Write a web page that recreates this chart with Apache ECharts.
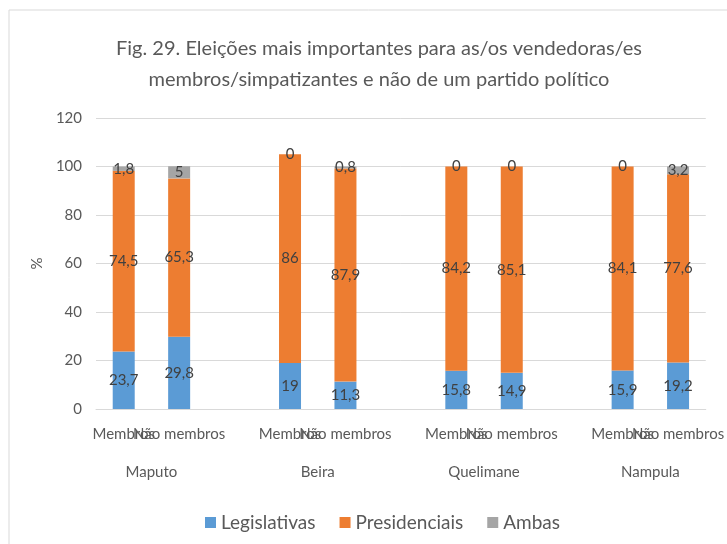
<!DOCTYPE html>
<html>
<head>
<meta charset="utf-8">
<script src="https://cdn.jsdelivr.net/npm/echarts@6/dist/echarts.min.js"></script>
<style>
  html, body { margin: 0; padding: 0; background: #fff; }
  #main { width: 727px; height: 544px; }
</style>
</head>
<body>
<div id="main"></div>
<script>
// categorias (com espaços vazios entre cidades)
var categorias = ['Membros', 'Não membros', '', 'Membros', 'Não membros', '', 'Membros', 'Não membros', '', 'Membros', 'Não membros'];
var cidades = ['Maputo', 'Beira', 'Quelimane', 'Nampula'];
var legislativas = [23.7, 29.8, null, 19, 11.3, null, 15.8, 14.9, null, 15.9, 19.2];
var presidenciais = [74.5, 65.3, null, 86, 87.9, null, 84.2, 85.1, null, 84.1, 77.6];
var ambas = [1.8, 5, null, 0, 0.8, null, 0, 0, null, 0, 3.2];
var yTicks = [0, 20, 40, 60, 80, 100, 120];

var myChart = echarts.init(document.getElementById('main'));
var fonte = 'Lato, "Noto Sans", sans-serif';
var cinza = '#595959';

function rotulo(p) {
  if (p.value === null || p.value === undefined) return '';
  return String(p.value).replace('.', ',');
}

function serie(nome, dados, cor) {
  return {
    name: nome,
    type: 'bar',
    stack: 'total',
    barWidth: 22,
    data: dados,
    itemStyle: { color: cor },
    label: {
      show: true,
      position: 'inside',
      color: '#404040',
      fontSize: 15,
      fontFamily: fonte,
      formatter: rotulo
    }
  };
}

var option = {
  backgroundColor: '#fff',
  textStyle: { fontFamily: fonte },
  graphic: [{
    type: 'rect',
    shape: { x: 9, y: 10, width: 740, height: 560 },
    style: { fill: 'none', stroke: '#d9d9d9', lineWidth: 1 },
    silent: true
  }],
  title: {
    text: 'Fig. 29. Eleições mais importantes para as/os vendedoras/es\nmembros/simpatizantes e não de um partido político',
    left: 374,
    textAlign: 'center',
    top: 28,
    textStyle: {
      fontFamily: fonte,
      fontSize: 20,
      fontWeight: 'normal',
      color: cinza,
      lineHeight: 31
    }
  },
  legend: {
    top: 508,
    left: 200,
    itemWidth: 11,
    itemHeight: 11,
    itemGap: 24,
    icon: 'rect',
    textStyle: { fontSize: 19, color: cinza, fontFamily: fonte },
    data: ['Legislativas', 'Presidenciais', 'Ambas']
  },
  grid: { left: 96, right: 18, top: 118, bottom: 135 },
  xAxis: [{
    type: 'category',
    data: categorias,
    axisLine: { lineStyle: { color: '#d9d9d9' } },
    axisTick: { show: false },
    axisLabel: {
      interval: 0,
      hideOverlap: false,
      margin: 18,
      fontSize: 15,
      color: cinza,
      fontFamily: fonte
    }
  }, {
    type: 'value',
    position: 'bottom',
    min: 0,
    max: categorias.length,
    interval: 1,
    axisLine: { show: false },
    axisTick: { show: false },
    splitLine: { show: false },
    axisLabel: {
      margin: 56,
      fontSize: 15,
      color: cinza,
      fontFamily: fonte,
      formatter: function (v) {
        var i = (v - 1) / 3;
        return (i === Math.floor(i) && cidades[i]) ? cidades[i] : '';
      }
    }
  }],
  yAxis: {
    type: 'value',
    min: yTicks[0],
    max: yTicks[yTicks.length - 1],
    interval: 20,
    name: '%',
    nameLocation: 'middle',
    nameGap: 46,
    nameRotate: 90,
    nameTextStyle: { fontSize: 15, color: cinza, fontFamily: fonte },
    axisLine: { show: false },
    axisTick: { show: false },
    axisLabel: { fontSize: 15, color: cinza, margin: 14, fontFamily: fonte },
    splitLine: { lineStyle: { color: '#d9d9d9' } }
  },
  series: [
    serie('Legislativas', legislativas, '#5B9BD5'),
    serie('Presidenciais', presidenciais, '#ED7D31'),
    serie('Ambas', ambas, '#A5A5A5')
  ]
};

myChart.setOption(option);
</script>
</body>
</html>
